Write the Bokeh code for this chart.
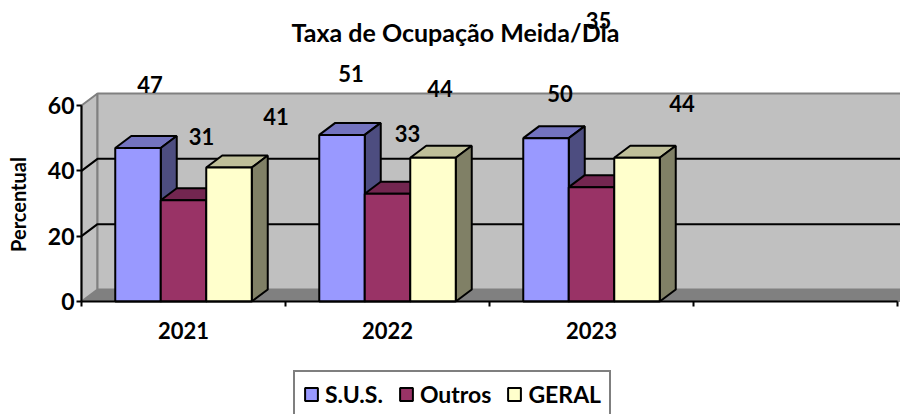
import math
from bokeh.embed import file_html
from bokeh.resources import INLINE
from bokeh.plotting import figure
from bokeh.models import FixedTicker, Label, Legend, LegendItem, Range1d

# ---- data ----
categories = ["2021", "2022", "2023", ""]
series_names = ["S.U.S.", "Outros", "GERAL"]
sus = [47, 51, 50]
outros = [31, 33, 35]
geral = [41, 44, 44]
y_ticks = [0, 20, 40, 60]
chart_title = "Taxa de Ocupação Meida/Dia"
y_title = "Percentual"

# ---- style ----
front = ["#9999FF", "#993366", "#FFFFCC"]
top = ["#7373BF", "#732650", "#BFBF99"]
side = ["#4D4D80", "#4D1A33", "#808066"]
FONT = "Lato"
W, H = 900, 414
X0, Y0 = 81, 301  # pixel position of the axes' origin
PX_X = 204.0      # px per category slot
PX_Y = 196 / 60   # px per percent
DX = 16 / PX_X    # 3-D depth
DY = 12 / PX_Y
BAR = 45.5 / PX_X
# label displacement from the bar's front-top centre, in px (as in the reference)
label_dx = [[12, 18, 47], [9, 20, 7], [14, 7, 45]]
label_dy = [[63, 64, 51], [61, 60, 69], [45, 167, 54]]

p = figure(width=W, height=H, output_backend="svg", toolbar_location=None,
           x_range=Range1d(-X0 / PX_X, (W - X0) / PX_X), y_range=Range1d(-(H - Y0) / PX_Y, Y0 / PX_Y),
           min_border=0, outline_line_color=None, background_fill_color="white")
p.grid.visible = False

xmax = 4.3
# floor, side wall, back wall
p.patch([0, DX, xmax, xmax], [0, DY, DY, 0], fill_color="#808080", line_color="#808080", line_width=1)
p.patch([0, DX, DX, 0], [0, DY, 60 + DY, 60], fill_color="#C0C0C0", line_color="#808080", line_width=2)
p.patch([DX, xmax, xmax, DX], [DY, DY, 60 + DY, 60 + DY], fill_color="#C0C0C0", line_color="#808080", line_width=2)
for t in y_ticks[1:-1]:
    p.line([0, DX, xmax], [t, t + DY, t + DY], line_color="black", line_width=2)

series = [sus, outros, geral]
legend_items = []
for j, vals in enumerate(series):
    xs = [i + 0.5 + (j - 1) * BAR for i in range(len(vals))]
    for x, v in zip(xs, vals):
        l, r = x - BAR / 2, x + BAR / 2
        p.patch([l, l + DX, r + DX, r], [v, v + DY, v + DY, v], fill_color=top[j], line_color="black", line_width=2)
        p.patch([r, r + DX, r + DX, r], [0, DY, v + DY, v], fill_color=side[j], line_color="black", line_width=2)
    r_ = p.vbar(x=xs, top=vals, bottom=0, width=BAR, fill_color=front[j], line_color="black", line_width=2)
    legend_items.append(LegendItem(label=series_names[j], renderers=[r_]))

# titles
p.add_layout(Label(x=(455 - X0) / PX_X, y=(Y0 - 31) / PX_Y, text=chart_title, text_font=FONT,
                   text_font_style="bold", text_font_size="25px", text_color="black",
                   text_align="center", text_baseline="middle"))
p.add_layout(Label(x=(17 - X0) / PX_X, y=(Y0 - 204) / PX_Y, text=y_title, text_font=FONT, angle=math.pi / 2,
                   text_font_style="bold", text_font_size="20px", text_color="black",
                   text_align="center", text_baseline="middle"))

# value labels
for j, vals in enumerate(series):
    for i, v in enumerate(vals):
        p.add_layout(Label(x=i + 0.5 + (j - 1) * BAR, y=v, text=str(v),
                           x_offset=label_dx[i][j], y_offset=label_dy[i][j],
                           text_font=FONT, text_font_style="bold", text_font_size="22px",
                           text_color="black", text_align="center", text_baseline="middle"))

# axes
ya = p.yaxis[0]
ya.fixed_location = 0
ya.bounds = (0, 60)
ya.ticker = FixedTicker(ticks=y_ticks)
ya.major_tick_in = 0
ya.major_tick_out = 5
ya.minor_tick_in = 0
ya.minor_tick_out = 0
ya.axis_line_color = "black"
ya.axis_line_width = 2
ya.major_tick_line_width = 2
ya.major_tick_line_color = "black"
ya.major_label_text_font = FONT
ya.major_label_text_font_style = "bold"
ya.major_label_text_font_size = "23px"
ya.major_label_text_color = "black"
ya.major_label_standoff = 2

xa = p.xaxis[0]
xa.fixed_location = 0
xa.bounds = (0, len(categories))
centers = [i + 0.5 for i in range(len(categories))]
xa.ticker = FixedTicker(ticks=centers, minor_ticks=list(range(len(categories) + 1)))
xa.major_label_overrides = {c: n for c, n in zip(centers, categories)}
xa.major_tick_in = 0
xa.major_tick_out = 0
xa.minor_tick_in = 0
xa.minor_tick_out = 5
xa.minor_tick_line_color = "black"
xa.minor_tick_line_width = 2
xa.axis_line_color = "black"
xa.axis_line_width = 2
xa.major_label_text_font = FONT
xa.major_label_text_font_style = "bold"
xa.major_label_text_font_size = "22px"
xa.major_label_text_color = "black"
xa.major_label_standoff = 15

# legend
leg = Legend(items=legend_items, orientation="horizontal", location=(293, -4),
             border_line_color="black", border_line_width=2,
             background_fill_color="white", background_fill_alpha=1,
             label_text_font=FONT, label_text_font_style="bold", label_text_font_size="23px",
             label_text_color="black", glyph_width=16, glyph_height=16, spacing=15,
             padding=8, margin=0, label_standoff=6)
p.add_layout(leg, "center")

open("out.html", "w").write(file_html(p, INLINE))
